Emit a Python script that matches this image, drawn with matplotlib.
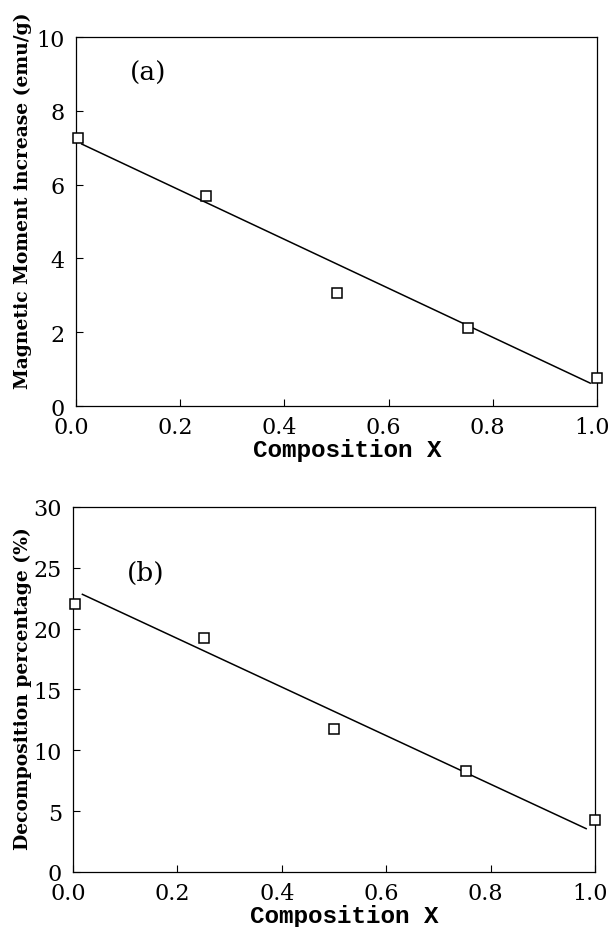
import matplotlib
matplotlib.use("Agg")
import matplotlib.pyplot as plt
import matplotlib.transforms as mtransforms

# data
comp_x = [0.003, 0.25, 0.50, 0.752, 1.0]
moment = [7.27, 5.69, 3.07, 2.12, 0.77]
decomp = [22.05, 19.26, 11.78, 8.27, 4.30]

fit_a_x = [0.011, 0.987]
fit_a_y = [7.10, 0.62]
fit_b_x = [0.018, 0.983]
fit_b_y = [22.82, 3.56]

xticks = [0.0, 0.2, 0.4, 0.6, 0.8, 1.0]
yticks_a = [0, 2, 4, 6, 8, 10]
yticks_b = [0, 5, 10, 15, 20, 25, 30]

plt.rcParams['font.family'] = ['DejaVu Serif']

fig = plt.figure(figsize=(6.14, 9.28), dpi=100)
ax1 = fig.add_axes([0.1238, 0.5614, 0.8485, 0.3976])
ax2 = fig.add_axes([0.1189, 0.0593, 0.8502, 0.3933])

def style(ax, yticks, ylim, ylabel, tag, tag_y, ylab_x, ylab_y):
    ax.set_xlim(0, 1.0)
    ax.set_ylim(*ylim)
    ax.set_xticks(xticks)
    ax.set_xticklabels([f"{t:.1f}" for t in xticks])
    ax.set_yticks(yticks)
    ax.tick_params(direction='in', length=5, width=0.8, labelsize=16)
    ax.tick_params(axis='x', pad=7)
    ax.tick_params(axis='y', pad=8)
    off = mtransforms.ScaledTranslation(-5 / 100, 0, fig.dpi_scale_trans)
    for lab in ax.get_xticklabels():
        lab.set_transform(lab.get_transform() + off)
    ax.set_xlabel("Composition X", fontsize=17.5, fontweight='bold',
                  family='Liberation Mono')
    ax.xaxis.set_label_coords(0.52, -0.088)
    ax.set_ylabel(ylabel, fontsize=13.5, fontweight='bold')
    ax.yaxis.set_label_coords(ylab_x, ylab_y)
    ax.text(0.104, tag_y, tag, transform=ax.transAxes, fontsize=19,
            va='center')
    for s in ax.spines.values():
        s.set_linewidth(0.9)

ax1.plot(fit_a_x, fit_a_y, color='black', lw=1.1, zorder=2)
ax1.plot(comp_x, moment, linestyle='none', marker='s', ms=7.5, mfc='white',
         mec='black', mew=1.1, zorder=3, clip_on=False)
style(ax1, yticks_a, (0, 10), "Magnetic Moment increase (emu/g)", "(a)",
      0.905, -0.084, 0.56)

ax2.plot(fit_b_x, fit_b_y, color='black', lw=1.1, zorder=2)
ax2.plot(comp_x, decomp, linestyle='none', marker='s', ms=6.5, mfc='white',
         mec='black', mew=1.1, zorder=3, clip_on=False)
style(ax2, yticks_b, (0, 30), "Decomposition percentage (%)", "(b)",
      0.82, -0.079, 0.505)

fig.savefig("out.png", dpi=100)
